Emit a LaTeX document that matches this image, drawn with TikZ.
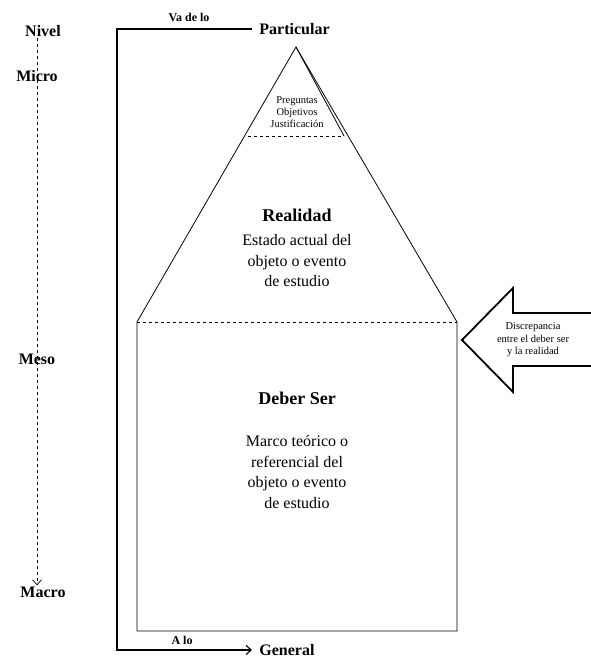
\documentclass[tikz,border=0pt]{standalone}
\usepackage{fontspec}
\setmainfont{Liberation Serif}
\usetikzlibrary{arrows.meta}
\begin{document}
\begin{tikzpicture}[x=1pt,y=-1pt,line width=0.8pt,
    lvl/.style={font=\bfseries\fontsize{16}{18}\selectfont,inner sep=1pt},
    small/.style={font=\bfseries\fontsize{12}{14}\selectfont,inner sep=1pt},
    head/.style={font=\bfseries\fontsize{18}{20}\selectfont},
    body/.style={font=\fontsize{16}{20.5}\selectfont,align=center},
    tip/.style={-{Straight Barb[length=5pt,width=9pt]}}]
    \useasboundingbox (0,0) rectangle (591,658);
    \node[lvl](nivel)at(43,31){Nivel};
    \node[lvl](micro)at(37,76){Micro};
    \node[lvl](meso)at(37,359){Meso};
    \node[lvl](macro)at(43,592){Macro};
    \draw[dashed,line width=0.7pt,tip](nivel.south-|micro)--(macro.north-|micro);
    \node[lvl,anchor=west](partic)at(258,29){Particular};
    \node[lvl,anchor=west](general)at(258,650){General};
    \node[small](vade)at(189,17){Va de lo};
    \node[small](alo)at(182,640){A lo};
    \draw[tip,line width=1.1pt,shorten <=6pt,shorten >=6pt](partic.west)-|(117,650)--(general.west);
    \coordinate(apex)at(296,47);
    \coordinate(bl)at(137,322);
    \coordinate(br)at(457,322);
    \coordinate(bbl)at(137,631);
    \coordinate(bbr)at(457,631);
    \coordinate(pl)at(248,136);
    \coordinate(pr)at(344,136);
    \draw(bl)--(apex)--(br)--(bbr)--(bbl)--cycle;
    \draw[dashed](bl)--(br);
    \draw(apex)--(pr);
    \draw[dashed](pl)--(pr);
    \node[font=\fontsize{10.5}{12}\selectfont,align=center](preg)at(297,112){Preguntas\\Objetivos\\Justificación};
    \node[head](real)at(297,215){Realidad};
    \node[body](estado)at(297,261){Estado actual del\\objeto o evento\\de estudio};
    \node[head](deber)at(297,398){Deber Ser};
    \node[body](marco)at(297,472){Marco teórico o\\referencial del\\objeto o evento\\de estudio};
    \draw[line width=1.8pt,line join=miter](462,340)--(513,288)--(513,313)--(592,313)--(592,366)--(513,366)--(513,392)--cycle;
    \node[font=\fontsize{10.5}{12.5}\selectfont,align=center](disc)at(533,340){Discrepancia\\entre el deber ser\\y la realidad};
\end{tikzpicture}
\end{document}
